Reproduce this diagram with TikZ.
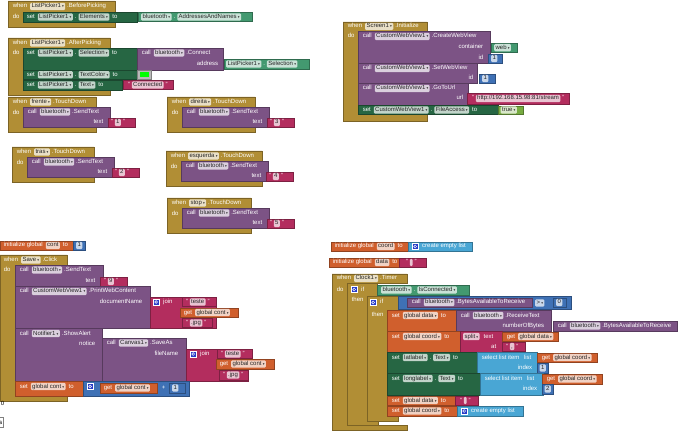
\documentclass[tikz,border=0pt]{standalone}
\usepackage{fontspec}
\setmainfont{Liberation Sans}
\newfontfamily\symf{DejaVu Sans}
\usetikzlibrary{positioning}
\definecolor{ctrl}{RGB}{177,142,53}
\definecolor{setg}{RGB}{38,102,67}
\definecolor{getg}{RGB}{67,153,112}
\definecolor{meth}{RGB}{124,83,133}
\definecolor{txtc}{RGB}{179,45,94}
\definecolor{mathc}{RGB}{63,113,181}
\definecolor{varc}{RGB}{208,95,45}
\definecolor{lstc}{RGB}{73,166,212}
\definecolor{logc}{RGB}{119,171,65}
\definecolor{gearc}{RGB}{40,60,200}
\newcommand{\dd}{\hspace{1.2pt}{\symf\fontsize{3.5}{4}\selectfont ▾}}
\newcommand{\blkfont}{\fontsize{6}{7}\selectfont}
% control block: x1, ytop, xhead, yhead, xcol, ybar, xbar, ybot
\newcommand{\cblk}[8]{\filldraw[blk=ctrl] (#1,#2) -- (#3,#2) -- (#3,#4) -- (#5,#4)
  -- (#5,#6) -- (#7,#6) -- (#7,#8) -- (#1,#8) -- cycle;}
% when X.TouchDown do call bluetooth.SendText
\newcommand{\touch}[6]{%
  \cblk{#2}{#3}{#2+#4}{#3+10}{#2+15}{#3+30}{#2+#4}{#3+35}
  \filldraw[blk=meth] (#2+15,#3+10) rectangle (#2+102,#3+30);
  \filldraw[blk=txtc] (#2+100,#3+21) rectangle (#2+127,#3+30);
  \node[wt] (#1-w) at (#2+4,#3+5) {when};
  \node[fld,right=2pt of #1-w] (#1-n) {#5\dd};
  \node[wt,right=1pt of #1-n] (#1-e) {.TouchDown};
  \node[wt] (#1-d) at (#2+4,#3+16) {do};
  \node[wt] (#1-c) at (#2+19,#3+15) {call};
  \node[fld,right=2pt of #1-c] (#1-b) {bluetooth\dd};
  \node[wt,right=1pt of #1-b] (#1-m) {.SendText};
  \node[wt,anchor=east] (#1-t) at (#2+96,#3+25.5) {text};
  \node[wt] (#1-q) at (#2+102,#3+25.5) {"};
  \node[fld,right=1pt of #1-q] (#1-v) {#6};
  \node[wt,right=1pt of #1-v] (#1-r) {"};}

\begin{document}
\begin{tikzpicture}[x=1pt,y=-1pt,
  lbl/.style={anchor=west,inner sep=0.6pt,text height=4.2pt,text depth=1.2pt,font=\blkfont},
  wt/.style={lbl,text=white},
  fld/.style={lbl,fill=white,fill opacity=.72,text opacity=1,text=black!85,
              rounded corners=1.2pt,inner xsep=1.4pt,inner ysep=1pt},
  blk/.style={fill=#1,draw=#1!70!black,line width=.3pt},
  gear/.style={anchor=west,fill=gearc,draw=white,line width=.4pt,minimum size=6pt,inner sep=0pt,
               path picture={\draw[white,line width=.5pt] (path picture bounding box.center) circle (1.4pt);}}]
\fill[white] (0,0) rectangle (690,435);
\useasboundingbox (0,0) rectangle (690,435);

% ListPicker1.BeforePicking
\cblk{8}{1}{115}{12}{23}{22}{115}{27}
\filldraw[blk=setg] (23,12) rectangle (137,22);
\filldraw[blk=getg] (138,12.5) rectangle (252,21.5);
\node[wt] (bp-w) at (12,6.5) {when};
\node[fld,right=2pt of bp-w] (bp-n) {ListPicker1\dd};
\node[wt,right=1pt of bp-n] (bp-e) {.BeforePicking};
\node[wt] (bp-d) at (12,17) {do};
\node[wt] (bp-s) at (26,17) {set};
\node[fld,right=2pt of bp-s] (bp-c) {ListPicker1\dd};
\node[wt,right=1pt of bp-c] (bp-p) {.};
\node[fld,right=1pt of bp-p] (bp-a) {Elements\dd};
\node[wt,right=2pt of bp-a] (bp-to) {to};
\node[fld] (bp-g) at (141,17) {bluetooth\dd};
\node[wt,right=1pt of bp-g] (bp-gp) {.};
\node[fld,right=1pt of bp-gp] (bp-ga) {AddressesAndNames\dd};

% ListPicker1.AfterPicking
\cblk{8}{38}{110}{48}{23}{90}{110}{95}
\filldraw[blk=setg] (23,48) rectangle (137,70);
\filldraw[blk=meth] (137,48) rectangle (223,70);
\filldraw[blk=getg] (224,59.5) rectangle (309,69);
\filldraw[blk=setg] (23,70) rectangle (137,79.5);
\filldraw[fill=gray!55,draw=gray] (137.5,70.5) rectangle (151,79);
\fill[green] (140,72) rectangle (148.5,77.5);
\filldraw[blk=setg] (23,80) rectangle (122,90);
\filldraw[blk=txtc] (123,80.5) rectangle (173,89.5);
\node[wt] (ap-w) at (12,43) {when};
\node[fld,right=2pt of ap-w] (ap-n) {ListPicker1\dd};
\node[wt,right=1pt of ap-n] (ap-e) {.AfterPicking};
\node[wt] (ap-d) at (12,53) {do};
\node[wt] (ap-s1) at (26,53) {set};
\node[fld,right=2pt of ap-s1] (ap-c1) {ListPicker1\dd};
\node[wt,right=1pt of ap-c1] (ap-p1) {.};
\node[fld,right=1pt of ap-p1] (ap-a1) {Selection\dd};
\node[wt,right=2pt of ap-a1] (ap-to1) {to};
\node[wt] (ap-k) at (141,53) {call};
\node[fld,right=2pt of ap-k] (ap-kb) {bluetooth\dd};
\node[wt,right=1pt of ap-kb] (ap-km) {.Connect};
\node[wt,anchor=east] (ap-ad) at (219,64) {address};
\node[fld] (ap-g) at (226,64) {ListPicker1\dd};
\node[wt,right=1pt of ap-g] (ap-gp) {.};
\node[fld,right=1pt of ap-gp] (ap-ga) {Selection\dd};
\node[wt] (ap-s2) at (26,74.8) {set};
\node[fld,right=2pt of ap-s2] (ap-c2) {ListPicker1\dd};
\node[wt,right=1pt of ap-c2] (ap-p2) {.};
\node[fld,right=1pt of ap-p2] (ap-a2) {TextColor\dd};
\node[wt,right=2pt of ap-a2] (ap-to2) {to};
\node[wt] (ap-s3) at (26,85) {set};
\node[fld,right=2pt of ap-s3] (ap-c3) {ListPicker1\dd};
\node[wt,right=1pt of ap-c3] (ap-p3) {.};
\node[fld,right=1pt of ap-p3] (ap-a3) {Text\dd};
\node[wt,right=2pt of ap-a3] (ap-to3) {to};
\node[wt] (ap-q1) at (127,85) {"};
\node[fld,right=1pt of ap-q1] (ap-v) {Connected};
\node[wt,right=1pt of ap-v] (ap-q2) {"};

% TouchDown buttons
\touch{fr}{8}{97}{88}{frente}{1}
\touch{di}{167}{97}{88}{direita}{3}
\touch{tr}{12}{147}{82}{tras}{2}
\touch{es}{166}{151}{96}{esquerda}{4}
\touch{sp}{167}{198}{84}{stop}{5}

% Screen1.Initialize
\cblk{343}{22}{427}{31}{358}{114}{427}{121}
\filldraw[blk=meth] (358,31) rectangle (490,63);
\filldraw[blk=getg] (491,43) rectangle (517,52.5);
\filldraw[blk=mathc] (488,54) rectangle (502,63);
\filldraw[blk=meth] (358,63.5) rectangle (477,83);
\filldraw[blk=mathc] (479,74) rectangle (495,83);
\filldraw[blk=meth] (358,83.5) rectangle (468,105);
\filldraw[blk=txtc] (467,93) rectangle (569,104);
\filldraw[blk=setg] (358,105.5) rectangle (498,114);
\filldraw[blk=logc] (498,106) rectangle (523,114);
\node[wt] (si-w) at (347,26.5) {when};
\node[fld,right=2pt of si-w] (si-n) {Screen1\dd};
\node[wt,right=1pt of si-n] (si-e) {.Initialize};
\node[wt] (si-d) at (347,36.5) {do};
\node[wt] (cw-k) at (362,36.5) {call};
\node[fld,right=2pt of cw-k] (cw-b) {CustomWebView1\dd};
\node[wt,right=1pt of cw-b] (cw-m) {.CreateWebView};
\node[wt,anchor=east] (cw-ct) at (484,47.5) {container};
\node[wt,anchor=east] (cw-id) at (484,58.5) {id};
\node[fld] (cw-web) at (494,47.7) {web\dd};
\node[fld] (cw-one) at (491,58.5) {1};
\node[wt] (sw-k) at (362,68.5) {call};
\node[fld,right=2pt of sw-k] (sw-b) {CustomWebView1\dd};
\node[wt,right=1pt of sw-b] (sw-m) {.SetWebView};
\node[wt,anchor=east] (sw-id) at (474,78.5) {id};
\node[fld] (sw-one) at (482,78.5) {1};
\node[wt] (gu-k) at (362,88.5) {call};
\node[fld,right=2pt of gu-k] (gu-b) {CustomWebView1\dd};
\node[wt,right=1pt of gu-b] (gu-m) {.GoToUrl};
\node[wt,anchor=east] (gu-url) at (464,98.5) {url};
\node[wt] (gu-q1) at (471,98.5) {"};
\node[fld,right=1pt of gu-q1] (gu-v) {http://192.168.15.98:81/stream};
\node[wt,right=1pt of gu-v] (gu-q2) {"};
\node[wt] (fa-s) at (362,110) {set};
\node[fld,right=2pt of fa-s] (fa-c) {CustomWebView1\dd};
\node[wt,right=1pt of fa-c] (fa-p) {.};
\node[fld,right=1pt of fa-p] (fa-a) {FileAccess\dd};
\node[wt,right=2pt of fa-a] (fa-to) {to};
\node[fld] (fa-t) at (500.5,110) {true\dd};

% initialize global cont
\filldraw[blk=varc] (0,241) rectangle (73,250);
\filldraw[blk=mathc] (73,241) rectangle (85,250);
\node[wt] (ic-i) at (3,245.5) {initialize global};
\node[fld,right=2pt of ic-i] (ic-n) {cont};
\node[wt,right=2pt of ic-n] (ic-to) {to};
\node[fld] (ic-v) at (76,245.5) {1};

% Save.Click
\cblk{0}{255}{67}{265}{15}{396}{67}{401}
\filldraw[blk=meth] (15,265) rectangle (103,286);
\filldraw[blk=txtc] (100,277) rectangle (127,286);
\filldraw[blk=meth] (15,286.5) rectangle (150,328);
\filldraw[blk=txtc] (150,297) rectangle (216,328);
\filldraw[blk=txtc] (182,297.5) rectangle (216,306);
\filldraw[blk=varc] (180,308) rectangle (238,317);
\filldraw[blk=txtc] (182,318.5) rectangle (212,327.5);
\filldraw[blk=meth] (15,328.5) rectangle (102,381);
\filldraw[blk=meth] (102,338) rectangle (186,381);
\filldraw[blk=txtc] (186,349) rectangle (248,381);
\filldraw[blk=txtc] (217,349.5) rectangle (252,358);
\filldraw[blk=varc] (216,359.5) rectangle (274,369);
\filldraw[blk=txtc] (219,370) rectangle (248,380);
\filldraw[blk=varc] (15,381) rectangle (83,396);
\filldraw[blk=mathc] (83,381) rectangle (189,396);
\filldraw[blk=varc] (100,383) rectangle (157,393);
\filldraw[blk=mathc] (169,383) rectangle (185,393);
\node[wt] (sc-w) at (3,260) {when};
\node[fld,right=2pt of sc-w] (sc-n) {Save\dd};
\node[wt,right=1pt of sc-n] (sc-e) {.Click};
\node[wt] (sc-d) at (3,270) {do};
\node[wt] (st-k) at (19,270) {call};
\node[fld,right=2pt of st-k] (st-b) {bluetooth\dd};
\node[wt,right=1pt of st-b] (st-m) {.SendText};
\node[wt,anchor=east] (st-t) at (96,281.5) {text};
\node[wt] (st-q1) at (103,281.5) {"};
\node[fld,right=1pt of st-q1] (st-v) {9};
\node[wt,right=1pt of st-v] (st-q2) {"};
\node[wt] (pw-k) at (19,291.5) {call};
\node[fld,right=2pt of pw-k] (pw-b) {CustomWebView1\dd};
\node[wt,right=1pt of pw-b] (pw-m) {.PrintWebContent};
\node[wt,anchor=east] (pw-dn) at (143,302) {documentName};
\node[gear] (j1-g) at (153,302) {};
\node[wt,right=3pt of j1-g] (j1-j) {join};
\node[wt] (j1-q1) at (185,302) {"};
\node[fld,right=1pt of j1-q1] (j1-a) {teste};
\node[wt,right=1pt of j1-a] (j1-q2) {"};
\node[wt] (j1-gt) at (183,312.5) {get};
\node[fld,right=2pt of j1-gt] (j1-gv) {global cont\dd};
\node[wt] (j1-q3) at (185,323) {"};
\node[fld,right=1pt of j1-q3] (j1-b) {.jpg};
\node[wt,right=1pt of j1-b] (j1-q4) {"};
\node[wt] (sa-k) at (19,333.5) {call};
\node[fld,right=2pt of sa-k] (sa-b) {Notifier1\dd};
\node[wt,right=1pt of sa-b] (sa-m) {.ShowAlert};
\node[wt,anchor=east] (sa-no) at (96,344) {notice};
\node[wt] (cv-k) at (106,343) {call};
\node[fld,right=2pt of cv-k] (cv-b) {Canvas1\dd};
\node[wt,right=1pt of cv-b] (cv-m) {.SaveAs};
\node[wt,anchor=east] (cv-fn) at (179,354) {fileName};
\node[gear] (j2-g) at (190,354) {};
\node[wt,right=3pt of j2-g] (j2-j) {join};
\node[wt] (j2-q1) at (220,354) {"};
\node[fld,right=1pt of j2-q1] (j2-a) {teste};
\node[wt,right=1pt of j2-a] (j2-q2) {"};
\node[wt] (j2-gt) at (219,364) {get};
\node[fld,right=2pt of j2-gt] (j2-gv) {global cont\dd};
\node[wt] (j2-q3) at (222,375) {"};
\node[fld,right=1pt of j2-q3] (j2-b) {.jpg};
\node[wt,right=1pt of j2-b] (j2-q4) {"};
\node[wt] (sg-s) at (19,386.5) {set};
\node[fld,right=2pt of sg-s] (sg-v) {global cont\dd};
\node[wt,right=2pt of sg-v] (sg-to) {to};
\node[gear] (sg-g) at (87,386.5) {};
\node[wt] (sg-gt) at (103,388) {get};
\node[fld,right=2pt of sg-gt] (sg-gv) {global cont\dd};
\node[wt] (sg-pl) at (161,388) {+};
\node[fld] (sg-one) at (172,388) {1};
\node[lbl,text=black] (zero) at (0,403.5) {0};
\node[lbl,draw=gray,fill=white,text=black,minimum height=10pt] (sbtn) at (-3,422.5) {\ s};

% initialize global coord / data
\filldraw[blk=varc] (331,242) rectangle (408,251);
\filldraw[blk=lstc] (408,242) rectangle (472,251);
\node[wt] (co-i) at (334,246.5) {initialize global};
\node[fld,right=2pt of co-i] (co-n) {coord};
\node[wt,right=2pt of co-n] (co-to) {to};
\node[gear] (co-g) at (412,246.5) {};
\node[wt,right=3pt of co-g] (co-l) {create empty list};
\filldraw[blk=varc] (329,258) rectangle (399,267);
\filldraw[blk=txtc] (399.5,258) rectangle (426,267);
\node[wt] (da-i) at (332,262.5) {initialize global};
\node[fld,right=2pt of da-i] (da-n) {data};
\node[wt,right=2pt of da-n] (da-to) {to};
\node[wt] (da-q1) at (405,262.5) {"};
\node[fld,right=1pt of da-q1] (da-v) {\hspace{2pt}};
\node[wt,right=1pt of da-v] (da-q2) {"};

% Clock1.Timer
\cblk{332}{274}{407}{283}{347}{425}{407}{430}
\cblk{347}{283}{377}{296}{367}{421}{378}{425}
\cblk{367}{296}{398}{310}{387}{416}{398}{421}
\filldraw[blk=getg] (377,285) rectangle (469,295);
\filldraw[blk=mathc] (398,296.5) rectangle (571,309.5);
\filldraw[blk=meth] (407,298) rectangle (532,307);
\filldraw[blk=mathc] (553,298) rectangle (566,307);
\filldraw[blk=varc] (387,310) rectangle (456,331);
\filldraw[blk=meth] (456,310) rectangle (551,331);
\filldraw[blk=meth] (553,321) rectangle (677,331);
\filldraw[blk=varc] (387,331) rectangle (460,352);
\filldraw[blk=txtc] (460,331) rectangle (502,352);
\filldraw[blk=varc] (502,332) rectangle (558,341);
\filldraw[blk=txtc] (502,342) rectangle (525,351);
\filldraw[blk=setg] (387,352) rectangle (477,373);
\filldraw[blk=lstc] (477,352) rectangle (537,373);
\filldraw[blk=varc] (537,353) rectangle (597,362);
\filldraw[blk=mathc] (537,363) rectangle (548,373);
\filldraw[blk=setg] (387,373) rectangle (480,395);
\filldraw[blk=lstc] (480,373) rectangle (543,395);
\filldraw[blk=varc] (542,374) rectangle (602,384);
\filldraw[blk=mathc] (542,384.5) rectangle (553,394);
\filldraw[blk=varc] (387,396) rectangle (455,405);
\filldraw[blk=txtc] (455,396) rectangle (478,405);
\filldraw[blk=varc] (387,406) rectangle (457,416);
\filldraw[blk=lstc] (457,406) rectangle (523,416);
\node[wt] (ck-w) at (336,278.5) {when};
\node[fld,right=2pt of ck-w] (ck-n) {Clock1\dd};
\node[wt,right=1pt of ck-n] (ck-e) {.Timer};
\node[wt] (ck-d) at (336,290) {do};
\node[gear] (if1-g) at (351,289.5) {};
\node[wt,right=3pt of if1-g] (if1-i) {if};
\node[wt] (if1-t) at (351,300) {then};
\node[fld] (cn-b) at (381,290) {bluetooth\dd};
\node[wt,right=1pt of cn-b] (cn-p) {.};
\node[fld,right=1pt of cn-p] (cn-a) {IsConnected\dd};
\node[gear] (if2-g) at (370,302.5) {};
\node[wt,right=3pt of if2-g] (if2-i) {if};
\node[wt] (if2-t) at (371,315) {then};
\node[wt] (cp-k) at (411,302.5) {call};
\node[fld,right=2pt of cp-k] (cp-b) {bluetooth\dd};
\node[wt,right=1pt of cp-b] (cp-m) {.BytesAvailableToReceive};
\node[fld] (cp-op) at (535,303) {>\dd};
\node[fld] (cp-z) at (556,302.5) {0};
\node[wt] (gd-s) at (391,315.5) {set};
\node[fld,right=2pt of gd-s] (gd-v) {global data\dd};
\node[wt,right=2pt of gd-v] (gd-to) {to};
\node[wt] (rt-k) at (460,315.5) {call};
\node[fld,right=2pt of rt-k] (rt-b) {bluetooth\dd};
\node[wt,right=1pt of rt-b] (rt-m) {.ReceiveText};
\node[wt,anchor=east] (rt-nb) at (545,326) {numberOfBytes};
\node[wt] (ba-k) at (557,326) {call};
\node[fld,right=2pt of ba-k] (ba-b) {bluetooth\dd};
\node[wt,right=1pt of ba-b] (ba-m) {.BytesAvailableToReceive};
\node[wt] (gc-s) at (391,336.5) {set};
\node[fld,right=2pt of gc-s] (gc-v) {global coord\dd};
\node[wt,right=2pt of gc-v] (gc-to) {to};
\node[fld] (sp-f) at (463,336.5) {split\dd};
\node[wt,right=3pt of sp-f] (sp-t) {text};
\node[wt,anchor=east] (sp-at) at (497,347) {at};
\node[wt] (sp-gt) at (506,336.5) {get};
\node[fld,right=2pt of sp-gt] (sp-gv) {global data\dd};
\node[wt] (sp-q1) at (505,346.5) {"};
\node[fld,right=1pt of sp-q1] (sp-v) {,};
\node[wt,right=1pt of sp-v] (sp-q2) {"};
\node[wt] (la-s) at (391,357.5) {set};
\node[fld,right=2pt of la-s] (la-c) {latlabel\dd};
\node[wt,right=1pt of la-c] (la-p) {.};
\node[fld,right=1pt of la-p] (la-a) {Text\dd};
\node[wt,right=2pt of la-a] (la-to) {to};
\node[wt] (l1-s) at (481,357.5) {select list item};
\node[wt,right=3pt of l1-s] (l1-l) {list};
\node[wt,anchor=east] (l1-ix) at (533,368) {index};
\node[wt] (l1-gt) at (541,357.5) {get};
\node[fld,right=2pt of l1-gt] (l1-gv) {global coord\dd};
\node[fld] (l1-v) at (539.5,368) {1};
\node[wt] (lo-s) at (391,378.5) {set};
\node[fld,right=2pt of lo-s] (lo-c) {longlabel\dd};
\node[wt,right=1pt of lo-c] (lo-p) {.};
\node[fld,right=1pt of lo-p] (lo-a) {Text\dd};
\node[wt,right=2pt of lo-a] (lo-to) {to};
\node[wt] (l2-s) at (484,378.5) {select list item};
\node[wt,right=3pt of l2-s] (l2-l) {list};
\node[wt,anchor=east] (l2-ix) at (538,389) {index};
\node[wt] (l2-gt) at (546,379) {get};
\node[fld,right=2pt of l2-gt] (l2-gv) {global coord\dd};
\node[fld] (l2-v) at (544.5,389) {2};
\node[wt] (rd-s) at (391,400.5) {set};
\node[fld,right=2pt of rd-s] (rd-v) {global data\dd};
\node[wt,right=2pt of rd-v] (rd-to) {to};
\node[wt] (rd-q1) at (459,400.5) {"};
\node[fld,right=1pt of rd-q1] (rd-e) {\hspace{2pt}};
\node[wt,right=1pt of rd-e] (rd-q2) {"};
\node[wt] (rc-s) at (391,411) {set};
\node[fld,right=2pt of rc-s] (rc-v) {global coord\dd};
\node[wt,right=2pt of rc-v] (rc-to) {to};
\node[gear] (rc-g) at (461,411) {};
\node[wt,right=3pt of rc-g] (rc-l) {create empty list};
\end{tikzpicture}
\end{document}
